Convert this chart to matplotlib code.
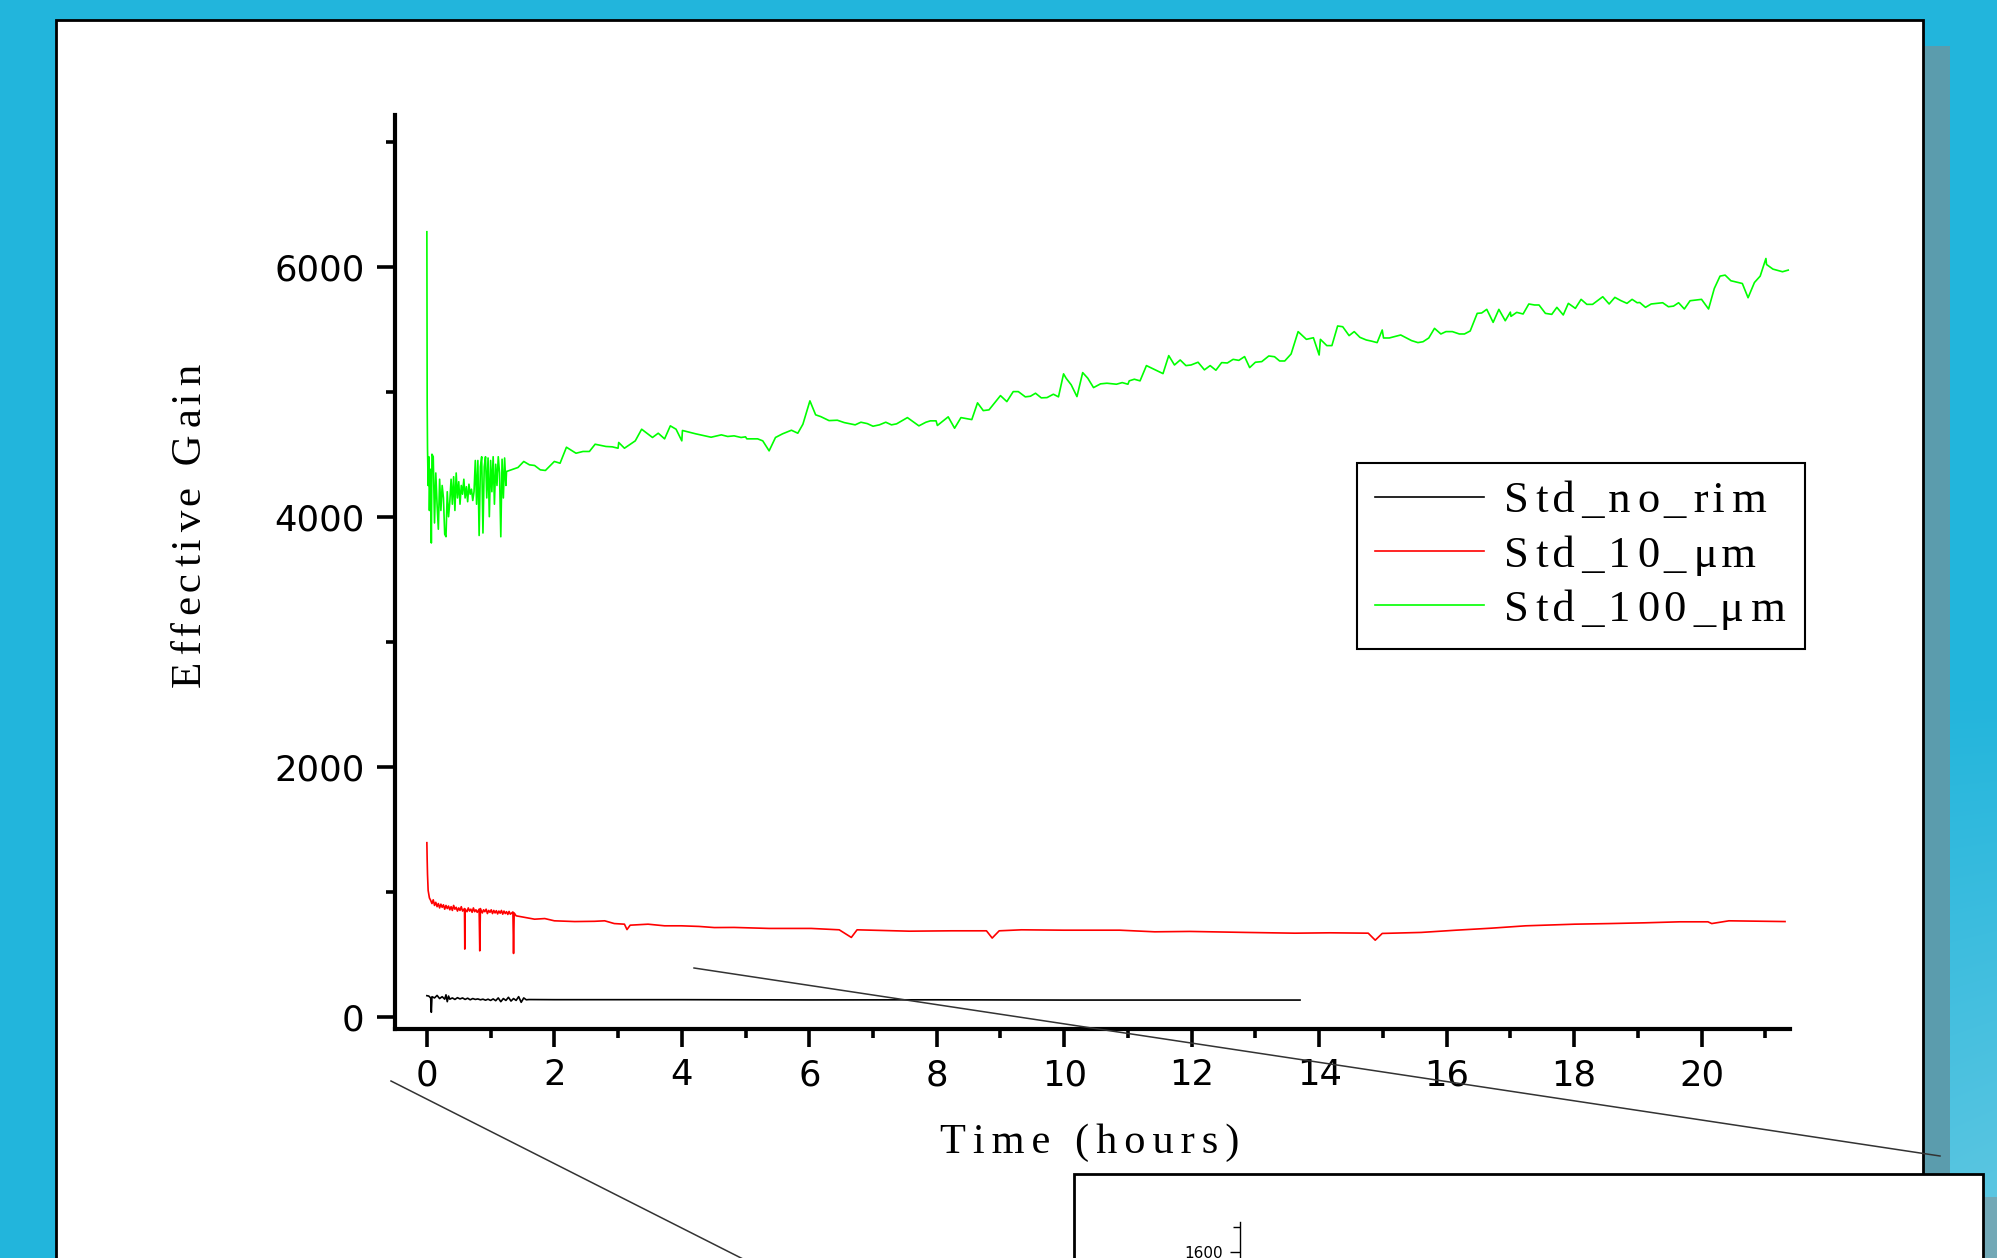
import numpy as np
import matplotlib
matplotlib.use("Agg")
import matplotlib.pyplot as plt
from matplotlib.patches import Rectangle
from matplotlib.lines import Line2D
from matplotlib.ticker import MultipleLocator, FixedLocator

# ---------------- data ----------------
series_labels = ["Std_no_rim", "Std_10_μm", "Std_100_μm"]
series_colors = ["#000000", "#ff0000", "#00ff00"]

x_major_ticks = [0, 2, 4, 6, 8, 10, 12, 14, 16, 18, 20]
y_major_ticks = [0, 2000, 4000, 6000]

black_points = [(0, 168), (0.03, 165), (0.06, 150), (0.07, 35), (0.08, 160), (0.12, 150), (0.16, 170),
                (0.20, 145), (0.24, 160), (0.28, 140), (0.30, 175), (0.32, 120), (0.34, 165), (0.36, 140),
                (0.40, 150), (0.44, 138), (0.48, 152), (0.52, 142), (0.56, 150), (0.60, 138), (0.64, 148),
                (0.68, 135), (0.72, 145), (0.76, 138), (0.80, 142), (0.84, 135), (0.88, 140), (0.92, 132),
                (0.96, 140), (1.00, 130), (1.04, 142), (1.08, 128), (1.12, 150), (1.16, 120), (1.20, 145),
                (1.24, 130), (1.28, 155), (1.32, 125), (1.36, 145), (1.40, 130), (1.44, 160), (1.48, 115),
                (1.52, 150), (1.56, 135), (1.60, 137), (2.0, 136), (4.0, 136), (6.0, 134), (8.0, 135),
                (10.0, 133), (12.0, 133), (13.70, 133)]

red_points = [(0, 1392), (0.005, 1250), (0.01, 1140), (0.02, 1010), (0.04, 950), (0.06, 930), (0.08, 905),
              (0.10, 935), (0.12, 890), (0.14, 915), (0.16, 880), (0.18, 905), (0.20, 870), (0.22, 900),
              (0.24, 875), (0.26, 895), (0.28, 860), (0.30, 890), (0.32, 865), (0.34, 885), (0.36, 855),
              (0.38, 880), (0.40, 850), (0.42, 890), (0.44, 860), (0.46, 875), (0.48, 845), (0.50, 870),
              (0.52, 850), (0.54, 880), (0.56, 845), (0.59, 865), (0.595, 541), (0.60, 860), (0.63, 840),
              (0.65, 870), (0.67, 845), (0.69, 860), (0.71, 835), (0.73, 870), (0.75, 840), (0.77, 855),
              (0.79, 835), (0.82, 860), (0.83, 527), (0.84, 865), (0.87, 830), (0.89, 855), (0.91, 840),
              (0.93, 860), (0.95, 825), (0.97, 850), (0.99, 835), (1.01, 855), (1.03, 825), (1.05, 850),
              (1.07, 830), (1.09, 848), (1.11, 822), (1.13, 845), (1.15, 828), (1.17, 850), (1.19, 820),
              (1.21, 845), (1.23, 825), (1.25, 840), (1.27, 818), (1.29, 842), (1.31, 820), (1.35, 838),
              (1.36, 506), (1.37, 830), (1.40, 807), (1.69, 780), (1.85, 785), (2.00, 767), (2.32, 761),
              (2.63, 763), (2.79, 767), (2.94, 745), (3.10, 740), (3.14, 697), (3.19, 732), (3.47, 740),
              (3.73, 727), (3.99, 727), (4.27, 722), (4.51, 713), (4.82, 714), (5.37, 706), (6.03, 706),
              (6.47, 695), (6.66, 634), (6.75, 695), (7.57, 684), (8.23, 687), (8.78, 687), (8.87, 629),
              (8.98, 687), (9.33, 695), (9.99, 692), (10.87, 692), (11.42, 679), (11.97, 682), (12.85, 674),
              (13.62, 668), (14.17, 671), (14.77, 668), (14.88, 612), (14.99, 666), (15.60, 674), (16.15, 692),
              (16.70, 708), (17.24, 727), (18.01, 740), (18.56, 745), (19.11, 751), (19.66, 759), (20.10, 759),
              (20.16, 745), (20.43, 767), (21.31, 761)]

green_points = [(0.0, 6280), (0.005, 4900), (0.01, 4550), (0.02, 4250), (0.03, 4480), (0.04, 4050),
                (0.05, 4300), (0.06, 4380), (0.07, 3790), (0.08, 4500), (0.10, 4480), (0.12, 3950),
                (0.14, 4350), (0.16, 4100), (0.18, 3900), (0.20, 4300), (0.22, 4050), (0.24, 4250),
                (0.26, 4150), (0.28, 3860), (0.30, 3840), (0.32, 4200), (0.34, 4000), (0.36, 4120),
                (0.38, 4300), (0.40, 4100), (0.42, 4320), (0.44, 4050), (0.46, 4350), (0.48, 4150),
                (0.50, 4280), (0.52, 4100), (0.54, 4250), (0.56, 4180), (0.58, 4300), (0.60, 4150),
                (0.62, 4240), (0.64, 4120), (0.66, 4260), (0.68, 4180), (0.70, 4220), (0.72, 4130),
                (0.74, 4200), (0.76, 4450), (0.78, 4100), (0.80, 4450), (0.82, 3850), (0.84, 4400),
                (0.86, 4480), (0.88, 3870), (0.90, 4400), (0.92, 4480), (0.94, 4150), (0.96, 4470),
                (0.98, 4000), (1.00, 4450), (1.02, 4200), (1.04, 4480), (1.06, 4100), (1.08, 4420),
                (1.10, 4250), (1.12, 4480), (1.14, 4350), (1.16, 3840), (1.18, 4460), (1.20, 4150),
                (1.22, 4470), (1.24, 4250), (1.25, 4362), (1.43, 4394), (1.52, 4442), (1.61, 4415),
                (1.69, 4410), (1.78, 4375), (1.86, 4370), (2.00, 4442), (2.09, 4428), (2.19, 4556),
                (2.34, 4508), (2.45, 4522), (2.55, 4522), (2.64, 4580), (2.81, 4562), (2.91, 4559),
                (3.00, 4548), (3.01, 4594), (3.10, 4548), (3.27, 4607), (3.37, 4700), (3.54, 4634),
                (3.63, 4668), (3.73, 4623), (3.82, 4727), (3.91, 4700), (4.00, 4607), (4.01, 4690),
                (4.22, 4663), (4.46, 4636), (4.62, 4655), (4.72, 4642), (4.82, 4647), (4.93, 4634),
                (5.00, 4639), (5.02, 4623), (5.19, 4623), (5.27, 4607), (5.37, 4527), (5.47, 4634),
                (5.58, 4663), (5.72, 4692), (5.82, 4668), (5.90, 4740), (6.01, 4927), (6.10, 4815),
                (6.18, 4801), (6.31, 4769), (6.44, 4772), (6.55, 4753), (6.72, 4735), (6.81, 4756),
                (6.91, 4745), (7.00, 4724), (7.10, 4735), (7.20, 4756), (7.29, 4735), (7.37, 4743),
                (7.54, 4793), (7.72, 4727), (7.83, 4756), (7.90, 4767), (7.99, 4767), (8.01, 4730),
                (8.18, 4799), (8.28, 4708), (8.38, 4793), (8.55, 4777), (8.64, 4911), (8.73, 4849),
                (8.82, 4855), (9.00, 4969), (9.10, 4921), (9.20, 5001), (9.28, 5001), (9.39, 4959),
                (9.47, 4964), (9.55, 4988), (9.64, 4951), (9.73, 4953), (9.83, 4980), (9.91, 4959),
                (9.99, 5143), (10.03, 5108), (10.11, 5055), (10.20, 4961), (10.29, 5153), (10.37, 5108),
                (10.46, 5033), (10.57, 5063), (10.67, 5068), (10.82, 5060), (10.91, 5073), (11.00, 5060),
                (11.02, 5087), (11.10, 5100), (11.19, 5087), (11.29, 5209), (11.55, 5145), (11.64, 5289),
                (11.73, 5214), (11.82, 5254), (11.91, 5209), (11.99, 5214), (12.10, 5236), (12.20, 5175),
                (12.29, 5209), (12.38, 5172), (12.47, 5233), (12.56, 5230), (12.65, 5259), (12.74, 5251),
                (12.83, 5281), (12.91, 5193), (13.00, 5236), (13.10, 5241), (13.21, 5286), (13.30, 5280),
                (13.38, 5246), (13.46, 5246), (13.56, 5302), (13.67, 5481), (13.80, 5419), (13.91, 5432),
                (14.00, 5294), (14.02, 5419), (14.12, 5369), (14.20, 5369), (14.29, 5526), (14.37, 5520),
                (14.47, 5449), (14.55, 5481), (14.64, 5435), (14.74, 5414), (14.82, 5405), (14.91, 5393),
                (14.99, 5494), (15.01, 5430), (15.10, 5430), (15.28, 5454), (15.45, 5409), (15.55, 5393),
                (15.63, 5400), (15.72, 5430), (15.81, 5507), (15.91, 5462), (15.99, 5481), (16.09, 5481),
                (16.20, 5462), (16.28, 5462), (16.37, 5486), (16.48, 5627), (16.55, 5630), (16.63, 5659),
                (16.73, 5555), (16.82, 5659), (16.92, 5568), (17.00, 5637), (17.01, 5603), (17.10, 5635),
                (17.20, 5622), (17.29, 5702), (17.38, 5694), (17.45, 5694), (17.55, 5627), (17.65, 5619),
                (17.73, 5675), (17.83, 5614), (17.91, 5707), (18.02, 5667), (18.11, 5739), (18.20, 5699),
                (18.29, 5699), (18.45, 5760), (18.55, 5702), (18.64, 5755), (18.73, 5730), (18.83, 5707),
                (18.91, 5739), (18.99, 5712), (19.03, 5714), (19.12, 5675), (19.21, 5702), (19.39, 5712),
                (19.48, 5680), (19.56, 5685), (19.64, 5712), (19.73, 5662), (19.82, 5728), (20.00, 5739),
                (20.11, 5662), (20.20, 5826), (20.29, 5925), (20.37, 5933), (20.46, 5888), (20.64, 5866),
                (20.73, 5752), (20.83, 5874), (20.92, 5925), (21.01, 6066), (21.02, 6018), (21.12, 5981),
                (21.27, 5960), (21.36, 5973)]

inset_tick_labels = ["1600"]
inset_tick_values = [1600]

# ---------------- figure ----------------
W, H = 1997, 1258
fig = plt.figure(figsize=(W / 100, H / 100), dpi=100)

def fx(px):
    return px / W

def fy(py):
    return 1 - py / H

# slide background (blue, lighter towards bottom-right)
yy, xx = np.mgrid[0:H, 0:W]
base = np.array([0x22, 0xb5, 0xdc]) / 255.0
light = np.array([0x62, 0xc8, 0xe2]) / 255.0
f = np.clip((yy / H - 0.55) / 0.45, 0, 1) * np.clip((xx / W - 0.5) / 0.5, 0, 1)
bg = base[None, None, :] * (1 - f[..., None]) + light[None, None, :] * f[..., None]
fig.figimage(bg, xo=0, yo=0, origin="upper", zorder=-20)

def rect_px(x0, y0, x1, y1, **kw):
    r = Rectangle((fx(x0), fy(y1)), fx(x1) - fx(x0), fy(y0) - fy(y1),
                  transform=fig.transFigure, figure=fig, **kw)
    fig.patches.append(r)
    return r

# shadows
rect_px(1923, 46, 1950, 1260, facecolor="#5b9cad", edgecolor="none", zorder=-12)
rect_px(1983, 1197, 1999, 1260, facecolor="#72a8b6", edgecolor="none", zorder=-12)
# main white panel
rect_px(56, 20, 1923, 1275, facecolor="white", edgecolor="black", linewidth=2.0, zorder=-10)
# second (lower) panel
rect_px(1074, 1174, 1983, 1275, facecolor="white", edgecolor="black", linewidth=2.0, zorder=2)

# ---------------- main axes ----------------
ax = fig.add_axes([fx(395), fy(1029.3), fx(1789.5) - fx(395), fy(115) - fy(1029.3)])
ax.set_facecolor("none")
ax.set_zorder(1)

for pts, col, lab in zip([black_points, red_points, green_points], series_colors, series_labels):
    t = [p[0] for p in pts]
    g = [p[1] for p in pts]
    ax.plot(t, g, color=col, linewidth=1.2, label=lab)

ax.set_xlim(-0.5, 21.38)
ax.set_ylim(-101, 7214)
ax.xaxis.set_major_locator(FixedLocator(x_major_ticks))
ax.xaxis.set_minor_locator(MultipleLocator(1))
ax.yaxis.set_major_locator(FixedLocator(y_major_ticks))
ax.yaxis.set_minor_locator(MultipleLocator(1000))
ax.set_xticklabels([str(v) for v in x_major_ticks])
ax.set_yticklabels([str(v) for v in y_major_ticks])

for s in ["top", "right"]:
    ax.spines[s].set_visible(False)
for s in ["left", "bottom"]:
    ax.spines[s].set_linewidth(3)

ax.tick_params(axis="both", which="major", direction="out", length=13, width=2.6,
               labelsize=25.5, colors="black")
ax.tick_params(axis="both", which="minor", direction="out", length=6.5, width=2.6)
ax.tick_params(axis="x", which="major", pad=8)
ax.tick_params(axis="y", which="major", pad=9)
for lbl in ax.get_xticklabels() + ax.get_yticklabels():
    lbl.set_fontfamily("DejaVu Sans")

HAIR = "\u200a"

def spaced(s, pattern=(2, 2)):
    out = s[0]
    for i, ch in enumerate(s[1:]):
        out += HAIR * pattern[i % len(pattern)] + ch
    return out

serif = ["Liberation Serif", "DejaVu Serif"]
fig.text(fx(1090), fy(1153), spaced("Time (hours)", (2, 2)), ha="center", va="baseline",
         fontsize=30.5, family=serif)
fig.text(fx(191), fy(526), spaced("Effective Gain", (2, 1)), ha="center", va="center",
         rotation=90, fontsize=31, family=serif)

handles = [Line2D([], [], color=c, linewidth=1.2) for c in series_colors]
leg = fig.legend(handles, [spaced(l, (2, 1)) for l in series_labels], loc="upper left",
                 bbox_to_anchor=(fx(1356.7), fy(462.7)), bbox_transform=fig.transFigure,
                 borderaxespad=0, frameon=True, fancybox=False, framealpha=1,
                 edgecolor="black", prop={"family": serif, "size": 32},
                 handlelength=2.45, handletextpad=0.45, borderpad=0.42, labelspacing=0.31)
leg.get_frame().set_linewidth(1.5)
leg.set_zorder(3)

# zoom connector lines
for (x0, y0), (x1, y1) in [((694, 968), (1940, 1156)), ((391, 1081), (745, 1260))]:
    fig.lines.append(Line2D([fx(x0), fx(x1)], [fy(y0), fy(y1)], transform=fig.transFigure,
                            color="#333333", linewidth=1.1, zorder=5))

# ---------------- inset axes in lower panel (cut off) ----------------
axi = fig.add_axes([fx(1240), -0.05, 0.3, fy(1221.7) + 0.05])
axi.set_facecolor("none")
axi.set_zorder(4)
axi.set_xlim(0, 1)
axi.set_ylim(1323, 1720)
for s in ["top", "right", "bottom"]:
    axi.spines[s].set_visible(False)
axi.spines["left"].set_linewidth(1.0)
axi.set_xticks([])
axi.yaxis.set_major_locator(FixedLocator(inset_tick_values))
axi.set_yticklabels(inset_tick_labels)
axi.yaxis.set_minor_locator(FixedLocator([1700]))
axi.tick_params(axis="y", which="major", length=7, width=1.0, labelsize=11, pad=5)
axi.tick_params(axis="y", which="minor", length=5, width=1.0)

fig.savefig("out.png", dpi=100)
